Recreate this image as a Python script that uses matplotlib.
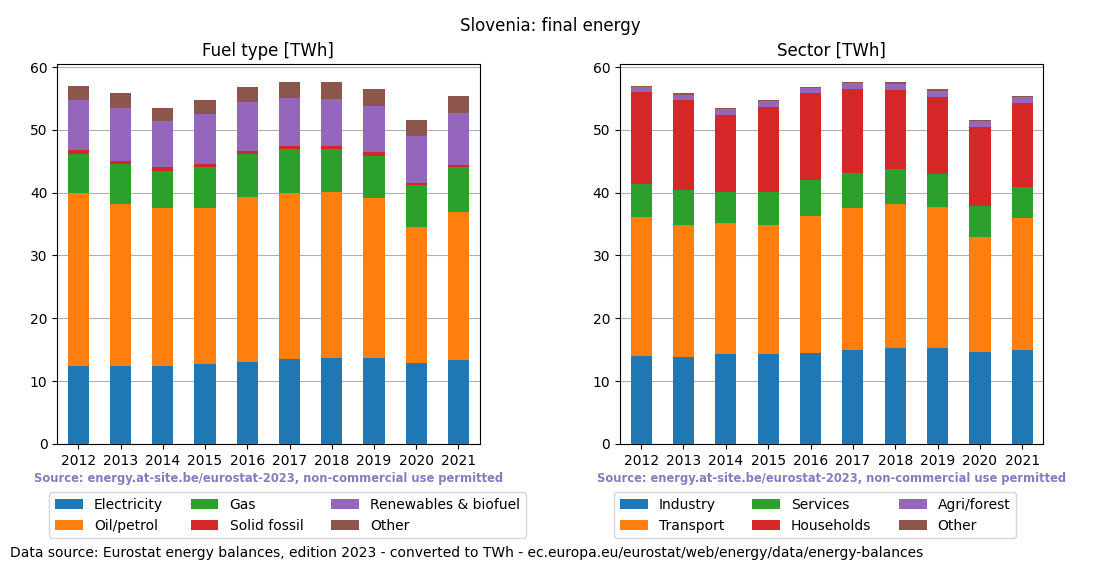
import matplotlib
matplotlib.use("Agg")
import matplotlib.pyplot as plt
import numpy as np

years = [2012, 2013, 2014, 2015, 2016, 2017, 2018, 2019, 2020, 2021]

# fuel type [TWh]
fuel_names = ["Electricity", "Oil/petrol", "Gas", "Solid fossil", "Renewables & biofuel", "Other"]
electricity = [12.4, 12.4, 12.4, 12.7, 13.05, 13.5, 13.7, 13.7, 12.9, 13.4]
oil = [27.5, 25.8, 25.2, 24.9, 26.25, 26.4, 26.4, 25.45, 21.6, 23.5]
gas = [6.3, 6.4, 5.8, 6.5, 6.9, 7.05, 6.85, 6.75, 6.7, 7.2]
solid = [0.6, 0.4, 0.7, 0.5, 0.4, 0.45, 0.45, 0.6, 0.3, 0.3]
renewables = [7.95, 8.5, 7.3, 7.9, 7.8, 7.7, 7.5, 7.3, 7.5, 8.3]
fuel_other = [2.25, 2.4, 2.1, 2.25, 2.4, 2.5, 2.7, 2.7, 2.6, 2.7]

# sector [TWh]
sector_names = ["Industry", "Transport", "Services", "Households", "Agri/forest", "Other"]
industry = [14.0, 13.85, 14.3, 14.3, 14.5, 14.95, 15.3, 15.3, 14.6, 14.95]
transport = [22.1, 21.05, 20.9, 20.6, 21.8, 22.65, 22.9, 22.4, 18.3, 21.05]
services = [5.3, 5.5, 4.9, 5.2, 5.7, 5.5, 5.6, 5.3, 5.0, 4.9]
households = [14.6, 14.35, 12.3, 13.5, 13.9, 13.4, 12.5, 12.2, 12.55, 13.4]
agri = [0.8, 0.75, 0.9, 1.0, 0.8, 0.95, 1.0, 1.0, 0.95, 0.9]
sector_other = [0.2, 0.4, 0.2, 0.15, 0.1, 0.15, 0.3, 0.3, 0.2, 0.2]

colors = ["#1f77b4", "#ff7f0e", "#2ca02c", "#d62728", "#9467bd", "#8c564b"]


def stacked(ax, names, series, title, legend_x):
    x = np.arange(len(years))
    bottom = np.zeros(len(years))
    for name, vals, c in zip(names, series, colors):
        ax.bar(x, vals, 0.5, bottom=bottom, color=c, label=name, zorder=3)
        bottom += np.array(vals)
    ax.set_xticks(x)
    ax.set_xticklabels([str(y) for y in years])
    ax.set_xlim(-0.5, len(years) - 0.5)
    ax.grid(axis="y", color="#b0b0b0", zorder=0)
    ax.set_title(title, fontsize=12)
    ax.text(0.5, -0.09, "Source: energy.at-site.be/eurostat-2023, non-commercial use permitted",
            transform=ax.transAxes, ha="center", va="center", fontsize=8.3,
            fontweight="bold", color="#7f7fbf")
    ax.legend(loc="upper left", bbox_to_anchor=(legend_x, -0.109), ncol=3, fontsize=10)


fig = plt.figure(figsize=(11, 5.72), dpi=100)
ax1 = fig.add_axes([0.052, 0.224, 0.384, 0.664])
ax2 = fig.add_axes([0.5636, 0.224, 0.385, 0.664])

stacked(ax1, fuel_names, [electricity, oil, gas, solid, renewables, fuel_other],
        "Fuel type [TWh]", -0.035)
stacked(ax2, sector_names, [industry, transport, services, households, agri, sector_other],
        "Sector [TWh]", -0.03)

fig.suptitle("Slovenia: final energy", y=0.97, fontsize=12)
fig.text(0.009, 0.033, "Data source: Eurostat energy balances, edition 2023 - converted to TWh - "
         "ec.europa.eu/eurostat/web/energy/data/energy-balances", fontsize=10, va="center")

fig.savefig("out.png", dpi=100)
